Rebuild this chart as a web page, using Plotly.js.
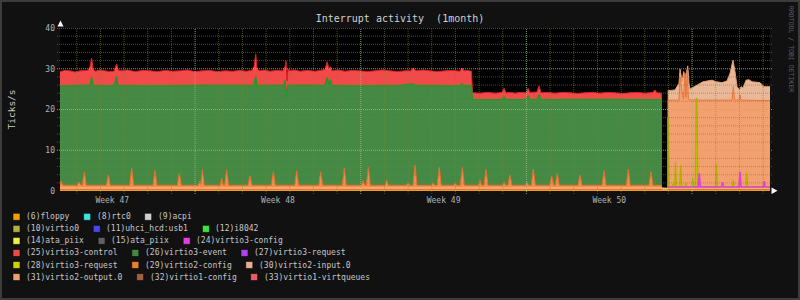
<!DOCTYPE html>
<html><head><meta charset="utf-8">
<script src="https://cdn.plot.ly/plotly-3.0.1.min.js"></script>
<style>html,body{margin:0;padding:0;background:#111111;}#chart{width:800px;height:300px;}</style>
</head><body><div id="chart"></div>
<script>
// ---- time base: hours since graph start (1 month window) ----
const START = Date.UTC(2023, 10, 21, 7, 0);
const SPAN_HOURS = 720;
function toDate(h){ return new Date(START + h*3600000).toISOString().slice(0,19).replace('T',' '); }

// ---- series: [hours since start, ticks/s] ----
const s25 = [[0,29.3],[5.1,29.6],[10.1,29.5],[15.2,29.2],[20.3,29.5],[28.4,29.6],[30.4,30.5],[32.1,32.6],[33.5,30.0],[35.5,29.4],[40.6,29.7],[45.6,29.5],[50.2,29.3],[54.8,29.4],[56.3,30.5],[57.5,31.2],[58.8,29.8],[60.8,29.5],[68.4,29.7],[76.1,29.3],[83.7,29.6],[91.3,29.5],[98.9,29.3],[106.5,29.6],[114.1,29.4],[121.7,29.5],[129.3,29.7],[136.9,29.3],[144.5,29.5],[152.1,29.6],[159.7,29.3],[167.3,29.5],[174.9,29.4],[182.5,29.6],[188.6,29.4],[194.7,29.6],[196.7,30.5],[198.5,33.6],[199.8,30.2],[201.8,29.5],[207.4,29.7],[213.0,29.4],[219.6,29.6],[226.1,29.5],[228.2,30.5],[229.2,31.9],[230.2,27.0],[231.2,30.0],[232.2,29.5],[237.8,29.7],[243.4,29.4],[251.0,29.6],[258.6,29.4],[263.7,29.6],[268.7,29.8],[270.8,31.7],[272.8,30.0],[274.3,30.5],[275.8,29.5],[282.4,29.7],[289.0,29.4],[296.6,29.6],[304.2,29.5],[311.8,29.3],[319.4,29.5],[327.0,29.7],[334.7,29.5],[342.3,29.3],[349.9,29.5],[356.0,29.5],[358.0,30.2],[361.0,29.5],[368.1,29.7],[375.2,29.5],[382.8,29.3],[390.4,29.5],[398.0,29.6],[405.6,29.4],[407.7,30.2],[409.7,29.5],[413.5,29.6],[417.3,29.4],[418.3,24.1],[425.9,24.0],[433.5,24.2],[441.1,24.0],[448.2,24.2],[450.3,25.2],[452.3,24.1],[456.9,24.2],[461.4,24.0],[467.0,24.2],[472.6,24.1],[474.6,25.2],[476.6,24.2],[483.7,24.3],[485.8,25.8],[487.8,24.1],[494.9,24.2],[502.0,24.0],[509.6,24.2],[517.2,24.1],[524.8,23.9],[532.4,24.1],[540.0,24.2],[547.6,24.0],[555.2,24.2],[562.8,24.1],[570.4,23.9],[578.0,24.1],[585.6,24.2],[593.2,24.0],[601.3,24.2],[603.3,24.8],[605.4,24.1],[610.2,24.0]];
const s26 = [[0,25.8],[20.3,25.9],[30.4,26.0],[32.1,28.0],[33.5,25.9],[54.8,25.8],[57.5,28.2],[58.8,25.9],[91.3,25.8],[142,25.9],[196.7,26.0],[198.5,28.2],[199.8,25.9],[227.2,25.9],[228.2,27.2],[229.7,23.1],[231.2,25.9],[268.7,25.9],[270.8,27.9],[272.8,26.2],[274.3,27.4],[275.8,25.9],[304.2,25.8],[344.8,25.9],[358.0,26.3],[361.0,25.9],[405.6,25.8],[407.7,26.3],[409.7,25.9],[417.3,25.8],[418.3,22.4],[448.2,22.4],[450.3,23.1],[452.3,22.4],[472.6,22.4],[474.6,23.4],[476.6,22.4],[483.7,22.5],[485.8,23.6],[487.8,22.4],[547.6,22.5],[588.1,22.4],[610.2,22.4]];
const s29 = [[0,1.4],[1.0,2.5],[3,1.4],[17.3,1.4],[19.3,2.2],[21.3,1.4],[22.6,1.4],[24.6,4.7],[26.6,1.4],[47,1.4],[49,3.9],[51,1.4],[70.7,1.4],[72.7,5.6],[74.7,1.4],[94.3,1.4],[96.3,5.0],[98.3,1.4],[119,1.4],[121,4.3],[123,1.4],[140.3,1.4],[142,2.5],[143,1.6],[144.3,5.2],[146.3,1.4],[162.5,1.4],[164,3.1],[165.5,1.5],[167,1.4],[169,5.2],[171,1.4],[190.7,1.4],[192.7,3.7],[194.7,1.4],[214.3,1.4],[216.3,4.7],[218.3,1.4],[238,1.4],[240,5.0],[242,1.4],[262.4,1.4],[264.4,4.7],[266.4,1.4],[286.3,1.4],[288.3,5.6],[290.3,1.4],[305.8,1.4],[307.3,2.5],[309,1.5],[310.7,1.4],[312.7,5.8],[314.7,1.4],[329.8,1.4],[331.3,2.7],[332.8,1.4],[351.4,1.4],[352.9,2.0],[354.4,1.4],[358,1.4],[360,6.4],[362,1.4],[376.8,1.4],[378.3,2.0],[379.8,1.4],[382.6,1.4],[384.6,5.8],[386.6,1.4],[399.1,1.4],[400.6,2.0],[402.1,1.4],[406,1.4],[408,5.8],[410,1.4],[424.4,1.4],[425.9,2.7],[427.4,1.4],[430,1.4],[432,5.3],[434,1.4],[448.8,1.4],[450.3,2.2],[451.8,1.4],[454.3,1.4],[456.3,3.9],[458.3,1.4],[472.1,1.4],[473.6,2.2],[475.1,1.4],[478,1.4],[480,5.4],[482,1.4],[496.6,1.4],[498.6,3.7],[500.6,1.4],[502.3,1.4],[504.3,4.3],[506.3,1.4],[525.3,1.4],[527.3,3.9],[529.3,1.4],[549.7,1.4],[551.7,5.0],[553.7,1.4],[574.3,1.4],[576.3,5.4],[578.3,1.4],[597.3,1.4],[599.3,4.7],[601.3,1.4],[610.2,1.4]];
const s30 = [[616.3,24.6],[623.7,24.8],[627.7,26.4],[628.8,29.9],[630.8,26.8],[632.5,29.3],[634.1,27.6],[636.6,30.7],[637.9,26.3],[638.9,25.0],[646.0,26.0],[652.1,26.8],[661.2,27.2],[665.3,26.8],[671.4,26.6],[676.4,27.0],[679.5,28.9],[682.5,32.1],[684.5,29.3],[686.6,25.6],[689.1,24.8],[690.6,25.6],[692.6,25.3],[695.7,27.2],[698.7,27.3],[701.8,26.8],[709.9,26.6],[713.9,25.6],[720,25.6]];
const s31 = [[616.3,22.3],[627.7,22.3],[628.8,28.0],[630.5,24.8],[632.3,22.5],[633.8,28.9],[634.8,23.0],[636.1,29.7],[637.3,22.4],[649.0,22.3],[681.5,22.3],[682.8,25.6],[684.0,22.4],[688.6,22.3],[689.6,23.6],[690.6,22.3],[720,22.2]];
const s28 = [[616.0,17.9],[617.0,17.9],[617.8,1.0],[620.7,1.0],[621.7,1.8],[622.7,1.0],[623.2,1.0],[624.2,7.2],[625.2,1.0],[628.5,1.0],[629.5,6.4],[630.5,1.0],[633.8,1.0],[634.8,2.0],[635.8,1.0],[640.7,1.0],[641.7,3.3],[642.7,1.0],[644.2,1.0],[645.1,22.7],[646.0,22.7],[646.9,1.0],[664.7,1.0],[665.7,6.7],[666.7,1.0],[681.8,1.0],[682.8,2.7],[683.8,1.0],[695.4,1.0],[696.4,4.5],[697.4,1.0],[720,1.0]];
const s24 = [[616.3,1.0],[647.3,1.0],[648.3,4.4],[649.3,1.0],[670.9,1.0],[671.9,2.2],[672.9,1.0],[688.6,1.0],[689.6,4.7],[690.6,1.0],[713.1,1.0],[714.1,2.4],[715.1,1.0],[720,1.0]];
const sBase = [[0,0.95],[610.2,0.95],[613,null],[616.3,0.8],[720,0.8]];
const s6 = [[0,0.4],[610.2,0.4],[613,null],[616.3,0.35],[720,0.35]];

// ---- legend ----
const legendNames = ['(6)floppy','(8)rtc0','(9)acpi','(10)virtio0','(11)uhci_hcd:usb1','(12)i8042','(14)ata_piix','(15)ata_piix','(24)virtio3-config','(25)virtio3-control','(26)virtio3-event','(27)virtio3-request','(28)virtio3-request','(29)virtio2-config','(30)virtio2-input.0','(31)virtio2-output.0','(32)virtio1-config','(33)virtio1-virtqueues'];
const legendColors = ['#F0A000','#40E0E0','#D0D0D0','#B0B040','#4848E8','#40E040','#F0F040','#606060','#E040E0','#F04848','#448844','#B040F0','#D0D000','#E88030','#E0B090','#F0A070','#A06040','#E06068'];
const legendRows = [[0,1,2],[3,4,5],[6,7,8],[9,10,11],[12,13,14],[15,16,17]];
const yTicks = [0,10,20,30,40];

// ---- geometry helpers (pixel -> paper) ----
const PL=60, PR=770, PT=28, PB=191;
const xp = px => (px-PL)/(PR-PL);
const yp = py => (PB-py)/(PB-PT);
const MONO = 'DejaVu Sans Mono';

function area(s, fill, lineColor, lw){
  return {x:s.map(p=>toDate(p[0])), y:s.map(p=>p[1]), type:'scatter', mode:'lines',
    fill:'tozeroy', fillcolor:fill, line:{color:lineColor||fill, width:lw||0, shape:'linear', simplify:false},
    hoverinfo:'skip', showlegend:false, connectgaps:false};
}
function line(s, color, lw){
  return {x:s.map(p=>toDate(p[0])), y:s.map(p=>p[1]), type:'scatter', mode:'lines',
    line:{color:color, width:lw, simplify:false}, hoverinfo:'skip', showlegend:false};
}
const traces = [
  area(s25,'#F04A4A','#DC2020',1),
  area(s26,'#458945','#1F9A1F',1.2),
  area(s30,'#E8B898','#E4A070',1),
  area(s31,'#F2A070','#E8763A',1),
  area(s29,'#F39050','#E8702C',1),
  area(s28,'#C0C000','#B0B000',1.2),
  area(sBase,'#F6B07A'),
  area(s6,'#F0A020','#E06030',0.8),
  line(s24,'#E040E0',1.6)
];

// ---- grid (drawn above data like rrdtool) ----
const shapes = [];
const endMs = START + SPAN_HOURS*3600000;
for(let k=0;k<40;k++){
  const ms = Date.UTC(2023,10,22+k);
  if(ms>endMs) break;
  const major = new Date(ms).getUTCDay()===1;
  const xs = new Date(ms).toISOString().slice(0,19).replace('T',' ');
  shapes.push({type:'line', layer:'above', xref:'x', yref:'paper', x0:xs, x1:xs, y0:-3/(PB-PT), y1:1,
    line:{color: major?'rgba(150,185,130,0.85)':'rgba(130,130,40,0.6)', width:1, dash:'1px,1px'}});
}
for(let v=2; v<=40; v+=2){
  const major = v%10===0;
  shapes.push({type:'line', layer:'above', xref:'paper', yref:'y', x0:xp(57), x1:xp(773), y0:v, y1:v,
    line:{color: major?'rgba(150,185,130,0.85)':'rgba(130,130,40,0.6)', width:1, dash:'1px,1px'}});
}
// axis arrows
function path(pts){ return 'M'+pts.map(p=>xp(p[0])+','+yp(p[1])).join('L')+'Z'; }
shapes.push({type:'path', layer:'above', xref:'paper', yref:'paper', path:path([[57.5,26.5],[63.5,26.5],[60.5,20.5]]), fillcolor:'#ffffff', line:{width:0}});
shapes.push({type:'path', layer:'above', xref:'paper', yref:'paper', path:path([[771.5,187.5],[771.5,194],[777.5,190.7]]), fillcolor:'#ffffff', line:{width:0}});
// outer frame
shapes.push({type:'rect', layer:'above', xref:'paper', yref:'paper', x0:xp(1), x1:xp(799), y0:yp(299), y1:yp(1), line:{color:'#3c3c3c', width:2}});

// ---- legend as annotations + squares ----
const annotations = [];
const CHAR = 4.816;
legendRows.forEach((row, r)=>{
  const cy = 216.8 + r*12.05;
  let X = 13;
  row.forEach(i=>{
    shapes.push({type:'rect', layer:'above', xref:'paper', yref:'paper', x0:xp(X), x1:xp(X+7), y0:yp(cy+3.5), y1:yp(cy-3.5),
      fillcolor:legendColors[i], line:{color:'rgba(0,0,0,0.55)', width:1}});
    annotations.push({xref:'paper', yref:'paper', x:xp(X+12), y:yp(cy), xanchor:'left', yanchor:'middle', showarrow:false, borderpad:0,
      text:legendNames[i], font:{family:MONO, size:8, color:'#c8c8c8'}});
    X = X + 12 + legendNames[i].length*CHAR + 15.3;
  });
});
annotations.push({xref:'paper', yref:'paper', x:xp(11), y:0.5, textangle:-90, showarrow:false, xanchor:'center', yanchor:'middle',
  text:'Ticks/s', font:{family:MONO, size:9.5, color:'#c8c8c8'}});
annotations.push({xref:'paper', yref:'paper', x:xp(791), y:yp(49), textangle:90, showarrow:false, xanchor:'center', yanchor:'middle',
  text:'RRDTOOL / TOBI OETIKER', font:{family:MONO, size:6.5, color:'#606060'}});

const layout = {
  width:800, height:300,
  margin:{l:PL, r:800-PR, t:PT, b:300-PB, pad:0},
  paper_bgcolor:'#111111', plot_bgcolor:'#000000',
  title:{text:'Interrupt activity \u00a0(1month)', x:0.5, xref:'container', xanchor:'center', y:1-18.5/300, yref:'container', yanchor:'middle',
    font:{family:MONO, size:10, color:'#d0d0d0'}},
  xaxis:{type:'date', range:[toDate(0), toDate(SPAN_HOURS)], tick0:'2023-11-23 12:00', dtick:7*86400000, tickformat:'Week %V',
    showgrid:false, zeroline:false, showline:false, ticks:'', ticklabelstandoff:3, tickfont:{family:MONO, size:8, color:'#b4b4b4'}, fixedrange:true},
  yaxis:{range:[0,40], tickvals:yTicks, ticktext:yTicks.map(String), showgrid:false, zeroline:false, showline:false, ticks:'',
    ticklabelstandoff:4, tickfont:{family:MONO, size:8, color:'#b4b4b4'}, fixedrange:true},
  shapes:shapes, annotations:annotations, showlegend:false
};
Plotly.newPlot('chart', traces, layout, {displayModeBar:false, staticPlot:true});
</script></body></html>
